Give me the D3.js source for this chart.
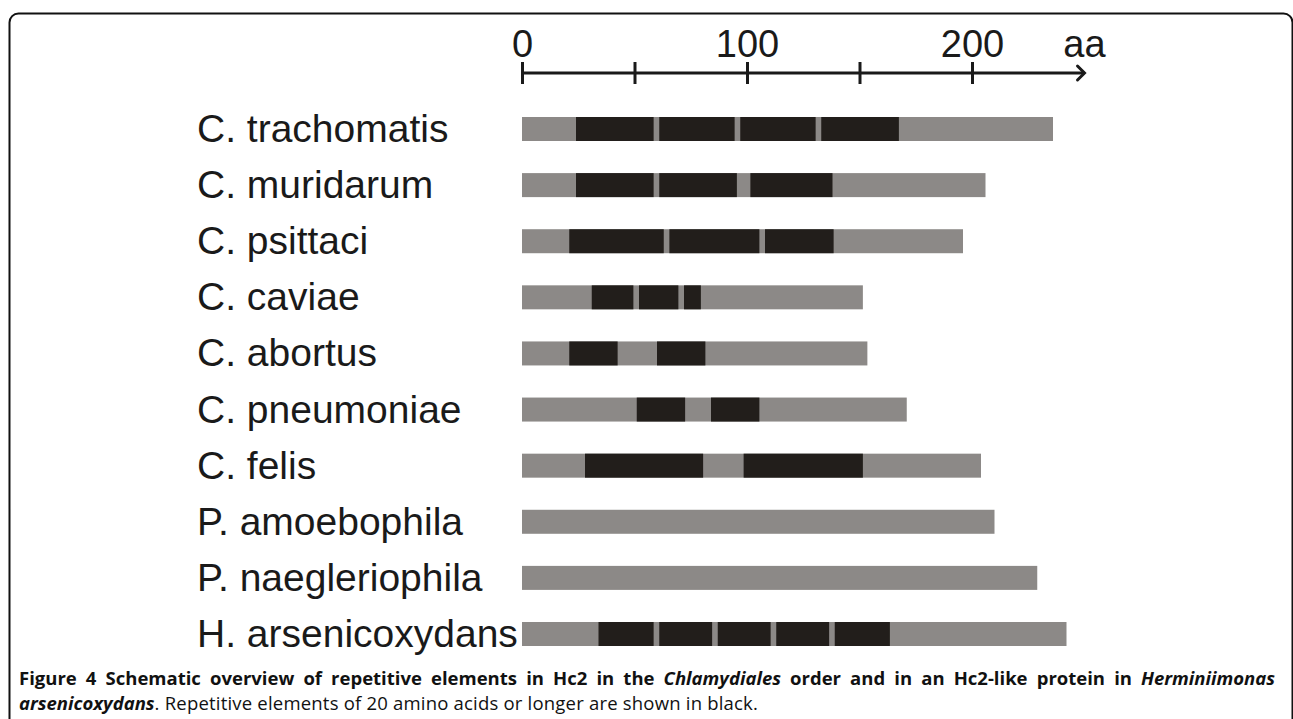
<!DOCTYPE html>
<html>
<head>
<meta charset="utf-8">
<script src="https://cdn.jsdelivr.net/npm/d3@7"></script>
<style>
  body { margin: 0; background: #fff; }
  svg { display: block; }
</style>
</head>
<body>
<svg id="chart"></svg>
<script>
// species shown on each row, top to bottom
const species = [
  'C. trachomatis', 'C. muridarum', 'C. psittaci', 'C. caviae', 'C. abortus',
  'C. pneumoniae', 'C. felis', 'P. amoebophila', 'P. naegleriophila', 'H. arsenicoxydans',
];
// protein length, in aa
const proteinLength = [236, 206, 196, 151.5, 153.5, 171, 204, 210, 229, 242];
// repetitive elements (start, end) in aa
const repeats = [
  [[24, 58.5], [61, 94.5], [97, 130.5], [133, 167.5]],
  [[24, 58.5], [61, 95.5], [101.5, 138]],
  [[21, 63], [65.5, 105.5], [108, 138.5]],
  [[31, 49.5], [52, 69.5], [72, 79.5]],
  [[21, 42.5], [60, 81.5]],
  [[51, 72.5], [84, 105.5]],
  [[28, 80.5], [98.5, 151.5]],
  [],
  [],
  [[34, 58.5], [61, 84.5], [87, 110.5], [113, 136.5], [139, 163.5]],
];
const axisTicks = [0, 50, 100, 150, 200];
const axisLabelled = [0, 100, 200];
const axisEnd = 250;
const axisUnit = 'aa';

const config = {
  width: 1293,
  height: 719,
  x0: 522, // pixel of 0 aa
  x200: 972, // pixel of 200 aa
  rowTop: 129, // centre of first row
  rowBottom: 634, // centre of last row
  barHeight: 24,
  axisY: 73,
  labelX: 197,
  gray: '#8c8987',
  black: '#221e1b',
  font: '"Liberation Sans", Arial, sans-serif',
  captionFont: '"Open Sans", sans-serif',
  captionWidth: 1256,
};

const c = config;
const svg = d3.select('#chart').attr('width', c.width).attr('height', c.height);

// frame
svg.append('rect')
  .attr('x', 9.5).attr('y', 13.5)
  .attr('width', 1283).attr('height', 900)
  .attr('rx', 9)
  .attr('fill', 'none')
  .attr('stroke', '#111')
  .attr('stroke-width', 2);

const x = d3.scaleLinear([0, 200], [c.x0, c.x200]);
const y = d3.scalePoint(species, [c.rowTop, c.rowBottom]);

/**
 * axis
 */
const axis = d3.axisTop(x)
  .tickValues(axisTicks)
  .tickSizeInner(11)
  .tickSizeOuter(0)
  .tickPadding(5)
  .tickFormat((d) => (axisLabelled.includes(d) ? d : ''));
const gAxis = svg.append('g')
  .attr('transform', `translate(0,${c.axisY})`)
  .call(axis)
  .call((g) => g.select('.domain').remove());
gAxis.selectAll('.tick line')
  .attr('stroke', '#1a1a1a')
  .attr('stroke-width', 3)
  .attr('y2', -11)
  .clone()
  .attr('y2', 11);
gAxis.selectAll('.tick text')
  .attr('fill', '#1a1a1a')
  .style('font-family', c.font)
  .style('font-size', '38px');
gAxis.append('line')
  .attr('x1', x(0)).attr('x2', x(axisEnd))
  .attr('stroke', '#1a1a1a')
  .attr('stroke-width', 3);
gAxis.append('path')
  .attr('d', `M${x(axisEnd) - 7},-7L${x(axisEnd)},0L${x(axisEnd) - 7},7`)
  .attr('fill', 'none')
  .attr('stroke', '#1a1a1a')
  .attr('stroke-width', 3)
  .attr('stroke-linecap', 'round');
gAxis.append('text')
  .attr('x', x(axisEnd))
  .attr('y', -16)
  .attr('text-anchor', 'middle')
  .attr('fill', '#1a1a1a')
  .style('font-family', c.font)
  .style('font-size', '38px')
  .text(axisUnit);

/**
 * rows
 */
const rows = svg.append('g')
  .selectAll('g')
  .data(species)
  .join('g')
  .attr('transform', (d) => `translate(0,${y(d)})`);

rows.append('text')
  .attr('x', c.labelX)
  .attr('y', 13)
  .attr('fill', '#1a1a1a')
  .style('font-family', c.font)
  .style('font-size', '39px')
  .text((d) => d);

rows.append('rect')
  .attr('x', x(0))
  .attr('y', -c.barHeight / 2)
  .attr('width', (_, i) => x(proteinLength[i]) - x(0))
  .attr('height', c.barHeight)
  .attr('fill', c.gray);

rows.each(function (_, i) {
  d3.select(this)
    .selectAll('rect.rep')
    .data(repeats[i])
    .join('rect')
    .attr('class', 'rep')
    .attr('x', (r) => x(r[0]))
    .attr('y', -c.barHeight / 2)
    .attr('width', (r) => x(r[1]) - x(r[0]))
    .attr('height', c.barHeight)
    .attr('fill', c.black);
});

/**
 * caption (first line justified with word spacing)
 */
const cap1 = svg.append('text')
  .attr('x', 19)
  .attr('y', 685)
  .attr('fill', '#111')
  .style('font-family', c.captionFont)
  .style('font-size', '18.5px')
  .style('font-weight', 700);
cap1.append('tspan').text('Figure 4 Schematic overview of repetitive elements in Hc2 in the ');
cap1.append('tspan').style('font-style', 'italic').text('Chlamydiales');
cap1.append('tspan').text(' order and in an Hc2-like protein in ');
cap1.append('tspan').style('font-style', 'italic').text('Herminiimonas');
const natural = cap1.node().getComputedTextLength();
const spaces = cap1.text().split(' ').length - 1;
cap1.style('word-spacing', `${Math.max(0, (c.captionWidth - natural) / spaces)}px`);

const cap2 = svg.append('text')
  .attr('x', 19)
  .attr('y', 710)
  .attr('fill', '#111')
  .style('font-family', c.captionFont)
  .style('font-size', '18.5px');
cap2.append('tspan').style('font-style', 'italic').style('font-weight', 700).text('arsenicoxydans');
cap2.append('tspan')
  .style('letter-spacing', '0.2px')
  .text('. Repetitive elements of 20 amino acids or longer are shown in black.');
</script>
</body>
</html>
